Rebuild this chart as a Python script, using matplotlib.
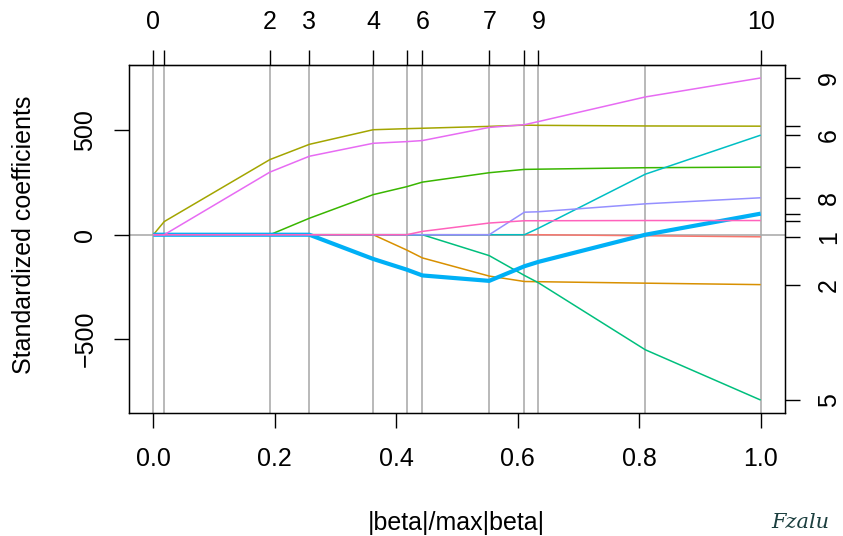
import numpy as np
import matplotlib
matplotlib.use("Agg")
import matplotlib.pyplot as plt

plt.rcParams['font.family'] = ['Liberation Sans', 'DejaVu Sans']

# lasso path breakpoints (|beta|/max|beta|) and df at each step
s = [0, 0.018, 0.192, 0.257, 0.362, 0.417, 0.443, 0.553, 0.611, 0.634, 0.810, 1.0]
top_ticks = [0, 0.018, 0.192, 0.257, 0.362, 0.417, 0.443, 0.553, 0.611, 0.634, 1.0]
top_labels = ['0', '', '2', '3', '4', '', '6', '7', '', '9', '10']

# coefficient paths, one list per variable
age = [0, 0, 0, 0, 0, 0, 0, 0, 0, 0, -5, -10]
sex = [0, 0, 0, 0, 0, -73, -111, -198, -224, -225, -232, -239]
bmi = [0, 63, 360, 433, 503, 508, 510, 519, 525, 524, 521, 520]
bp = [0, 0, 0, 79, 192, 230, 252, 297, 313, 314, 321, 324]
tc = [0, 0, 0, 0, 0, 0, 0, -100, -195, -230, -551, -792]
ldl = [0, 0, 0, 0, 0, 0, 0, 0, 0, 31, 290, 477]
hdl = [0, 0, 0, 0, -116, -167, -195, -221, -151, -130, 0, 101]
tch = [0, 0, 0, 0, 0, 0, 0, 0, 108, 110, 148, 177]
ltg = [0, 0, 300, 376, 438, 446, 451, 514, 527, 542, 660, 751]
glu = [0, 0, 0, 0, 0, 0, 16, 56, 67, 67, 68, 68]

paths = [age, sex, bmi, bp, tc, ldl, hdl, tch, ltg, glu]
right_labels = ['1', '2', '', '', '5', '6', '', '8', '9', '']

colors = ['#F8766D', '#D89000', '#A3A500', '#39B600', '#00BF7D',
          '#00BFC4', '#00B0F6', '#9590FF', '#E76BF3', '#FF62BC']
widths = [1.1] * 10
widths[6] = 3.0  # hdl highlighted

fig = plt.figure(figsize=(8.43, 5.36), dpi=100)
ax = fig.add_axes([129/843, 1 - 413/536, 656/843, 348/536])

# break lines and zero line
for v in s:
    ax.axvline(v, color='#a6a6a6', lw=1.1, zorder=1)
ax.axhline(0, color='#a6a6a6', lw=1.1, zorder=1)

for p, c, w in zip(paths, colors, widths):
    ax.plot(s, p, color=c, lw=w, zorder=2, solid_capstyle='butt')

ax.set_xlim(-0.04, 1.04)
ax.set_ylim(-853.9, 813.0)

for sp in ax.spines.values():
    sp.set_linewidth(1.0)

tick_kw = dict(length=10.8, width=1.0, labelsize=18, color='black')
ax.set_xticks([0, 0.2, 0.4, 0.6, 0.8, 1.0])
ax.set_xticklabels(['0.0', '0.2', '0.4', '0.6', '0.8', '1.0'])
ax.set_yticks([-500, 0, 500])
ax.set_yticklabels(['\u2212500', '0', '500'], rotation=90, va='center')
ax.tick_params(axis='x', pad=13.5, **tick_kw)
ax.tick_params(axis='y', pad=12, **tick_kw)

# top axis: degrees of freedom
axt = ax.secondary_xaxis('top')
axt.set_xticks(top_ticks)
axt.set_xticklabels(top_labels)
axt.tick_params(pad=11.3, **tick_kw)

# right axis: variable numbers at final coefficients
axr = ax.twinx()
axr.set_ylim(ax.get_ylim())
axr.set_yticks([p[-1] for p in paths])
axr.set_yticklabels(right_labels, rotation=90, va='center')
axr.tick_params(pad=12, **tick_kw)

fig.text(24/843, 1 - 235/536, 'Standardized coefficients', rotation=90,
         ha='center', va='center', fontsize=18)
fig.text(456.5/843, 1 - 523/536, '|beta|/max|beta|', ha='center', va='center',
         fontsize=18)
fig.text(800/843, 1 - 522/536, 'Fzalu', ha='center', va='center', fontsize=15,
         style='italic', family='DejaVu Serif', color='#1c3f3f')

fig.savefig('out.png', dpi=100)
